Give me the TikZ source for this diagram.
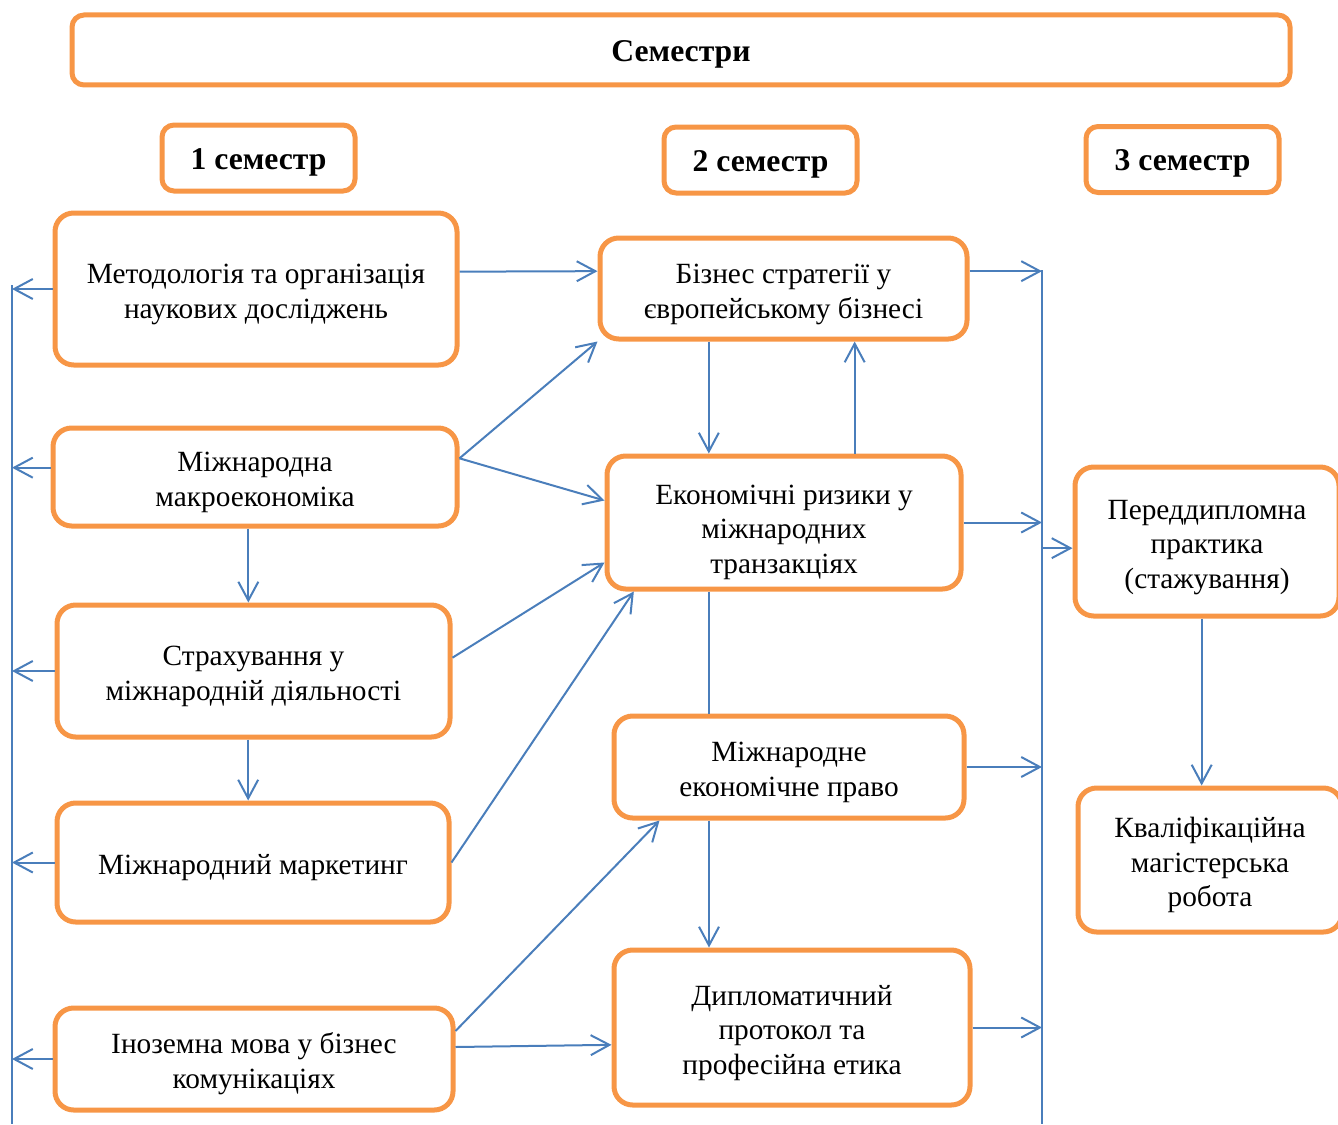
\documentclass[tikz,border=0pt]{standalone}
\usepackage{fontspec}
\setmainfont{Liberation Serif}
\usetikzlibrary{arrows.meta}
\definecolor{boxOrange}{HTML}{F79646}
\definecolor{linkBlue}{HTML}{4A7EBB}
% strut that pushes the text a bit lower in its box
\newcommand{\lift}[1][23pt]{\rule{0pt}{#1}}
\tikzset{
	box/.style={draw=boxOrange, line width=3.75pt, fill=white, align=center, inner sep=0pt}
}
\tikzset{
	course/.style={box, rounded corners=14pt, font=\fontsize{22pt}{26pt}\selectfont}
}
\tikzset{
	term/.style={box, rounded corners=9pt, font=\bfseries\fontsize{23.75pt}{27pt}\selectfont,
		execute at begin node={\rule{0pt}{22pt}}}
}
\tikzset{
	link/.style={draw=linkBlue, line width=1.5pt, -{Straight Barb[length=14pt, width=15pt]}}
}
\tikzset{
	rail/.style={draw=linkBlue, line width=1.5pt}
}

\begin{document}
\begin{tikzpicture}[x=0.75pt, y=-0.75pt]
		\useasboundingbox (0,0) rectangle (1338,1124);
		% headers
		\node[term, minimum width=913.5pt, minimum height=52.5pt] (terms) at (681,50) {Семестри};
		\node[term, minimum width=144.75pt, minimum height=49.5pt] (term1) at (258.5,158) {1 семестр};
		\node[term, minimum width=144.75pt, minimum height=49.5pt] (term2) at (760.5,160) {2 семестр};
		\node[term, minimum width=144.75pt, minimum height=49.5pt] (term3) at (1182.5,159.5) {3 семестр};
		% 1 semester
		\node[course, minimum width=301.5pt, minimum height=114pt] (metod) at (256,289) {\lift Методологія та організація\\наукових досліджень};
		\node[course, minimum width=303pt, minimum height=73.5pt] (macro) at (255,477) {\lift Міжнародна\\макроекономіка};
		\node[course, minimum width=294.75pt, minimum height=99pt] (insur) at (253.5,671) {\lift Страхування у\\міжнародній діяльності};
		\node[course, minimum width=294pt, minimum height=89.25pt] (market) at (253,862.5) {\lift Міжнародний маркетинг};
		\node[course, minimum width=298.5pt, minimum height=76.5pt] (lang) at (254,1059) {\lift Іноземна мова у бізнес\\комунікаціях};
		% 2 semester
		\node[course, minimum width=275.25pt, minimum height=75.75pt] (biz) at (783.5,288.5) {\lift Бізнес стратегії у\\європейському бізнесі};
		\node[course, minimum width=265.5pt, minimum height=99.75pt] (risk) at (784,522.5) {\lift[29pt]Економічні ризики у\\міжнародних\\транзакціях};
		\node[course, minimum width=262.5pt, minimum height=76.5pt] (law) at (789,767) {\lift Міжнародне\\економічне право};
		\node[course, minimum width=267pt, minimum height=116.25pt] (dipl) at (792,1027.5) {\lift Дипломатичний\\протокол та\\професійна етика};
		% 3 semester
		\node[course, minimum width=198pt, minimum height=111.75pt] (pract) at (1207,541.5) {\lift Переддипломна\\практика\\(стажування)};
		\node[course, minimum width=198pt, minimum height=108pt] (thesis) at (1210,860) {\lift Кваліфікаційна\\магістерська\\робота};

		% side rails
		\coordinate (ltop) at (12,285);
		\coordinate (lbot) at (12,1124);
		\coordinate (rtop) at (1042,270);
		\coordinate (rbot) at (1042,1124);
		\draw[rail] (ltop) -- (lbot);
		\draw[rail] (rtop) -- (rbot);

		% to the left rail
		\coordinate (macroL) at ([yshift=7pt]macro.west);
		\draw[link] (metod.west) -- (metod.west -| ltop);
		\draw[link] (macroL) -- (macroL -| ltop);
		\draw[link] (insur.west) -- (insur.west -| ltop);
		\draw[link] (market.west) -- (market.west -| ltop);
		\draw[link] (lang.west) -- (lang.west -| ltop);

		% to the right rail
		\coordinate (bizR) at ([yshift=13pt]biz.east);
		\coordinate (practL) at ([yshift=-5pt]pract.west);
		\draw[link] (bizR) -- (bizR -| rtop);
		\draw[link] (risk.east) -- (risk.east -| rtop);
		\draw[link] (law.east) -- (law.east -| rtop);
		\draw[link] (dipl.east) -- (dipl.east -| rtop);
		\draw[link] (practL -| rtop) -- (practL);

		% 1 semester -> 2 semester
		\draw[link] ([yshift=13pt]metod.east) -- ([yshift=13pt]biz.west);
		\draw[link] ([yshift=14pt]macro.east) -- (biz.south west);
		\draw[link] ([yshift=14pt]macro.east) -- ([yshift=16.5pt]risk.west);
		\draw[link] ([yshift=10pt]insur.east) -- ([yshift=-30pt]risk.west);
		\draw[link] (market.east) -- ([xshift=22pt]risk.south west);
		\draw[link] ([yshift=21pt]lang.east) -- ([xshift=36pt]law.south west);
		\draw[link] ([yshift=9pt]lang.east) -- ([yshift=-13pt]dipl.west);

		% inside columns
		\coordinate (macroD) at ([xshift=-5pt]macro.south);
		\coordinate (insurD) at ([xshift=-4pt]insur.south);
		\draw[link] (macroD) -- (macroD |- insur.north);
		\draw[link] (insurD) -- (insurD |- market.north);
		\coordinate (bizD) at ([xshift=-56pt]biz.south);
		\coordinate (riskU) at ([xshift=53pt]risk.north);
		\coordinate (riskD) at ([xshift=-56pt]risk.south);
		\coordinate (lawD) at ([xshift=-60pt]law.south);
		\draw[link] (bizD) -- (bizD |- risk.north);
		\draw[link] (riskU) -- (riskU |- biz.south);
		\draw[rail] (riskD) -- (riskD |- law.north);
		\draw[link] (lawD) -- (lawD |- dipl.north);
		\coordinate (practD) at ([xshift=-4pt]pract.south);
		\draw[link] (practD) -- (practD |- thesis.north);
\end{tikzpicture}
\end{document}
